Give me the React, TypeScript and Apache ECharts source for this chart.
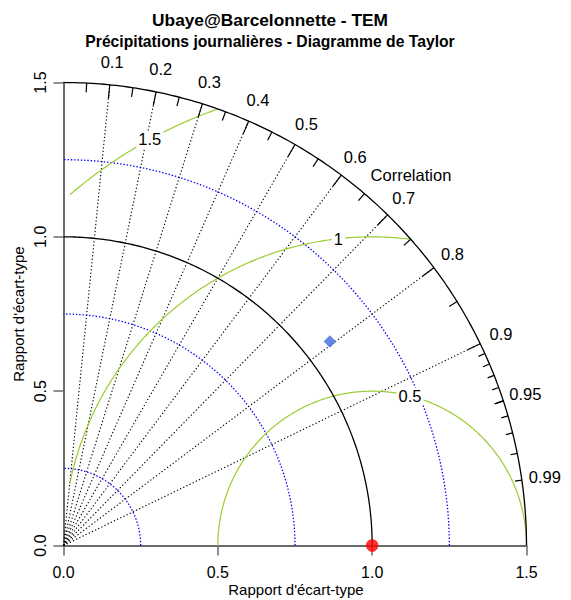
import React, { useEffect, useRef } from "react";
import * as echarts from "echarts";

// ---- Data ----
const TITLE = "Ubaye@Barcelonnette - TEM";
const SUBTITLE = "Précipitations journalières - Diagramme de Taylor";
const AXIS_TITLE = "Rapport d'écart-type";
const CORR_TITLE = "Correlation";

const SD_MAX = 1.5;
const SD_ARCS_SOLID = [1.0, 1.5];
const SD_ARCS_DOTTED = [0.25, 0.75, 1.25];

const RMS_CONTOURS = [0.5, 1, 1.5];
const RMS_LABEL_ANGLES = [75.8, 96.3, 118.7]; // degrees, around the reference point

const CORR_MAJOR = [0.1, 0.2, 0.3, 0.4, 0.5, 0.6, 0.7, 0.8, 0.9];
const CORR_MEDIUM = [0.05, 0.15, 0.25, 0.35, 0.45, 0.55, 0.65, 0.75, 0.85, 0.95];
const CORR_SMALL = [0.91, 0.92, 0.93, 0.94, 0.95, 0.96, 0.97, 0.98, 0.99];
const CORR_LABELS = [0.1, 0.2, 0.3, 0.4, 0.5, 0.6, 0.7, 0.8, 0.9, 0.95, 0.99];
const CORR_TITLE_POS = { r: 1.646, angleDeg: 46.85 };

const REF_NAME = ["Observations"];
const REF_SD = [1.0];
const REF_CORR = [1.0];

const MODEL_NAMES = ["TEM"];
const MODEL_SD = [1.087];
const MODEL_CORR = [0.794];

const FONT = "'Liberation Sans', Arial, Helvetica, sans-serif";

// ---- Helpers ----
const toXY = (sd: number, corr: number): number[] => [
  sd * corr,
  sd * Math.sqrt(Math.max(0, 1 - corr * corr)),
];
const polar = (r: number, deg: number): number[] => [
  r * Math.cos((deg * Math.PI) / 180),
  r * Math.sin((deg * Math.PI) / 180),
];
const quarterArc = (r: number): number[][] => {
  const pts: number[][] = [];
  for (let d = 0; d <= 90.0001; d += 0.5) pts.push(polar(r, d));
  return pts;
};
const rmsArc = (R: number, cx: number): number[][] => {
  const pts: number[][] = [];
  const n = 720;
  for (let i = 0; i <= n; i++) {
    const t = (Math.PI * i) / n;
    const x = cx + R * Math.cos(t);
    const y = R * Math.sin(t);
    if (x >= 0.02 && x * x + y * y <= SD_MAX * SD_MAX + 1e-9) pts.push([x, y]);
  }
  return pts;
};
const tick = (corr: number, inner: number) => ({
  coords: [toXY(SD_MAX, corr), toXY(SD_MAX * inner, corr)],
});

const textLabel = {
  show: true,
  position: "inside",
  formatter: "{b}",
  fontSize: 16.5,
  color: "#000000",
  textBorderWidth: 0,
  textShadowBlur: 0,
  fontFamily: FONT,
};

export default function App() {
  const ref = useRef<HTMLDivElement>(null);

  useEffect(() => {
    if (!ref.current) return;
    const chart = echarts.init(ref.current, undefined, { renderer: "svg" });
    const refX = REF_SD[0] * REF_CORR[0];

    const axisCommon = {
      type: "value",
      min: 0,
      max: SD_MAX,
      interval: 0.5,
      splitLine: { show: false },
      axisLine: { show: true, onZero: false, lineStyle: { color: "#6b6b6b", width: 2 } },
      axisTick: { show: true, length: 10, lineStyle: { color: "#6b6b6b", width: 1.5 } },
    };

    const option: any = {
      animation: false,
      backgroundColor: "#ffffff",
      textStyle: { fontFamily: FONT },
      grid: { left: 63.5, top: 82.5, width: 463, height: 463, containLabel: false },
      xAxis: {
        ...axisCommon,
        axisLabel: {
          show: true,
          showMinLabel: true,
          showMaxLabel: true,
          formatter: (v: number) => v.toFixed(1),
          fontSize: 16,
          color: "#000",
          margin: 19,
          fontFamily: FONT,
        },
      },
      yAxis: {
        ...axisCommon,
        axisLabel: {
          show: true,
          showMinLabel: true,
          showMaxLabel: true,
          rotate: 90,
          formatter: (v: number) => v.toFixed(1),
          fontSize: 16,
          color: "#000",
          margin: 15,
          fontFamily: FONT,
        },
      },
      graphic: [
        {
          type: "text",
          x: 270,
          y: 20,
          style: {
            text: TITLE,
            fontSize: 17.3,
            fontWeight: "bold",
            fontFamily: FONT,
            fill: "#000",
            align: "center",
            verticalAlign: "middle",
          },
        },
        {
          type: "text",
          x: 270,
          y: 41,
          style: {
            text: SUBTITLE,
            fontSize: 15.7,
            fontWeight: "bold",
            fontFamily: FONT,
            fill: "#000",
            align: "center",
            verticalAlign: "middle",
          },
        },
        {
          type: "text",
          x: 296,
          y: 589,
          style: {
            text: AXIS_TITLE,
            fontSize: 15,
            fontFamily: FONT,
            fill: "#000",
            align: "center",
            verticalAlign: "middle",
          },
        },
        {
          type: "text",
          x: 18,
          y: 314,
          rotation: Math.PI / 2,
          style: {
            text: AXIS_TITLE,
            fontSize: 15,
            fontFamily: FONT,
            fill: "#000",
            align: "center",
            verticalAlign: "middle",
          },
        },
      ],
      series: [
        {
          name: "sd-dotted",
          type: "lines",
          coordinateSystem: "cartesian2d",
          polyline: true,
          silent: true,
          z: 2,
          lineStyle: { color: "#0000ff", width: 1.3, type: [1.4, 1.9], opacity: 1 },
          data: SD_ARCS_DOTTED.map((r) => ({ coords: quarterArc(r) })),
        },
        {
          name: "corr-radials",
          type: "lines",
          coordinateSystem: "cartesian2d",
          silent: true,
          z: 2,
          lineStyle: { color: "#000", width: 1.1, type: [1.3, 2.2], opacity: 1 },
          data: CORR_MAJOR.map((c) => ({ coords: [[0, 0], toXY(SD_MAX, c)] })),
        },
        {
          name: "rms",
          type: "lines",
          coordinateSystem: "cartesian2d",
          polyline: true,
          silent: true,
          z: 2,
          lineStyle: { color: "#9acd32", width: 1.2, type: "solid", opacity: 1 },
          data: RMS_CONTOURS.map((R) => ({ coords: rmsArc(R, refX) })),
        },
        {
          name: "sd-solid",
          type: "lines",
          coordinateSystem: "cartesian2d",
          polyline: true,
          silent: true,
          z: 3,
          lineStyle: { color: "#000", width: 1.3, type: "solid", opacity: 1 },
          data: SD_ARCS_SOLID.map((r) => ({ coords: quarterArc(r) })),
        },
        {
          name: "corr-ticks",
          type: "lines",
          coordinateSystem: "cartesian2d",
          silent: true,
          z: 3,
          lineStyle: { color: "#000", width: 1.2, type: "solid", opacity: 1 },
          data: [
            ...CORR_MAJOR.map((c) => tick(c, 0.97)),
            ...CORR_MEDIUM.map((c) => tick(c, 0.98)),
            ...CORR_SMALL.map((c) => tick(c, 0.985)),
          ],
        },
        {
          name: "corr-labels",
          type: "scatter",
          silent: true,
          clip: false,
          z: 4,
          symbolSize: 1,
          itemStyle: { color: "transparent", opacity: 1 },
          label: textLabel,
          data: [
            ...CORR_LABELS.map((c) => ({ name: String(c), value: toXY(SD_MAX * 1.05, c) })),
            { name: CORR_TITLE, value: polar(CORR_TITLE_POS.r, CORR_TITLE_POS.angleDeg) },
          ],
        },
        {
          name: "rms-labels",
          type: "scatter",
          silent: true,
          clip: false,
          z: 4,
          symbolSize: 1,
          itemStyle: { color: "transparent", opacity: 1 },
          label: { ...textLabel, backgroundColor: "#ffffff", padding: [0, 2] },
          data: RMS_CONTOURS.map((R, i) => {
            const p = polar(R, RMS_LABEL_ANGLES[i]);
            return { name: String(R), value: [refX + p[0], p[1]] };
          }),
        },
        {
          name: REF_NAME[0],
          type: "scatter",
          clip: false,
          z: 6,
          symbol: "circle",
          symbolSize: 12.5,
          itemStyle: { color: "#ff0000" },
          data: REF_SD.map((s, i) => toXY(s, REF_CORR[i])),
        },
        {
          name: MODEL_NAMES[0],
          type: "scatter",
          z: 6,
          symbol: "diamond",
          symbolSize: 12.5,
          itemStyle: { color: "#4169e1" },
          data: MODEL_SD.map((s, i) => toXY(s, MODEL_CORR[i])),
        },
      ],
    };

    chart.setOption(option);
    return () => chart.dispose();
  }, []);

  return (
    <div
      ref={ref}
      style={{ position: "absolute", left: 0, top: 0, width: 571, height: 600 }}
    />
  );
}
